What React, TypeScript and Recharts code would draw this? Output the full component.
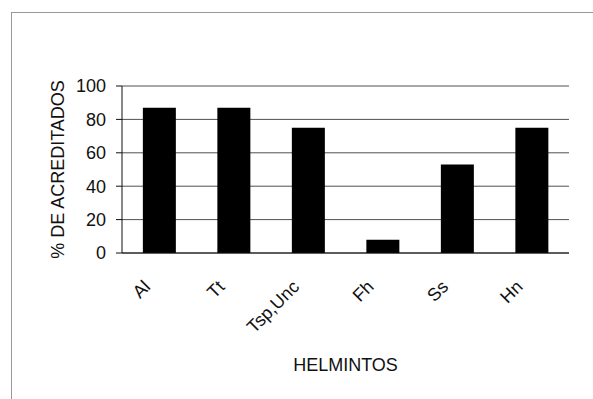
import { BarChart, Bar, XAxis, YAxis, CartesianGrid } from "recharts";

const categories = ["Al", "Tt", "Tsp,Unc", "Fh", "Ss", "Hn"];
const acreditados = [87, 87, 75, 8, 53, 75];
const yTicks = [0, 20, 40, 60, 80, 100];

const data = categories.map((name, i) => ({ name, value: acreditados[i] }));

const FONT = "'Liberation Sans', Arial, sans-serif";

function SlantedTick(props: any) {
  const { x, y, payload } = props;
  return (
    <g transform={`translate(${x - 8},${y + 27})`}>
      <text
        transform="rotate(-45)"
        textAnchor="end"
        fontFamily={FONT}
        fontSize={18}
        fill="#111"
      >
        {payload.value}
      </text>
    </g>
  );
}

export default function App() {
  return (
    <div
      style={{
        position: "absolute",
        left: 0,
        top: 0,
        width: 593,
        height: 399,
        overflow: "hidden",
        background: "#fff",
      }}
    >
      <div
        style={{
          position: "absolute",
          left: 11,
          top: 12,
          width: 700,
          height: 500,
          border: "1px solid #999",
        }}
      />
      <div style={{ position: "absolute", left: 0, top: 0 }}>
        <BarChart
          width={593}
          height={399}
          data={data}
          margin={{ top: 86, right: 24, bottom: 26, left: 40 }}
          barCategoryGap="28%"
        >
          <CartesianGrid
            yAxisId="left"
            vertical={false}
            stroke="#333"
            strokeOpacity={0.85}
          />
          <XAxis
            dataKey="name"
            height={120}
            tick={<SlantedTick />}
            tickLine={false}
            axisLine={{ stroke: "#111" }}
            interval={0}
            label={{
              value: "HELMINTOS",
              position: "insideBottom",
              offset: 2,
              style: { fontFamily: FONT, fontSize: 18, fill: "#111" },
            }}
          />
          <YAxis
            yAxisId="left"
            domain={[0, 100]}
            ticks={yTicks}
            width={82}
            tickSize={6}
            tickMargin={10}
            axisLine={{ stroke: "#111" }}
            tickLine={{ stroke: "#111" }}
            tick={{ fontFamily: FONT, fontSize: 18, fill: "#111" }}
            label={{
              value: "% DE ACREDITADOS",
              angle: -90,
              position: "insideLeft",
              offset: 18,
              style: {
                textAnchor: "middle",
                fontFamily: FONT,
                fontSize: 18,
                fill: "#111",
              },
            }}
          />
          <YAxis
            yAxisId="right"
            orientation="right"
            domain={[0, 100]}
            width={0}
            tick={false}
            tickLine={false}
            axisLine={{ stroke: "#888" }}
          />
          <Bar
            yAxisId="left"
            dataKey="value"
            fill="#000"
            isAnimationActive={false}
          />
        </BarChart>
      </div>
    </div>
  );
}
